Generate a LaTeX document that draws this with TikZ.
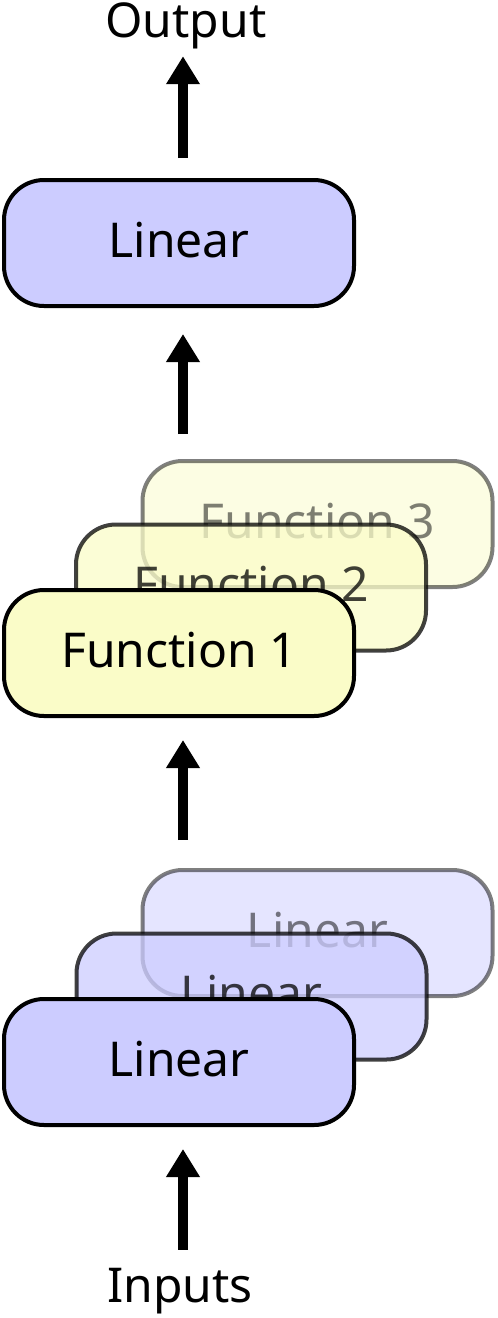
\documentclass[tikz,border=0pt]{standalone}
\usepackage{fontspec}
\setmainfont{Noto Sans}
\usetikzlibrary{arrows.meta}
\definecolor{linfill}{RGB}{204,204,255}
\definecolor{funfill}{RGB}{250,252,200}
\begin{document}
\begin{tikzpicture}[x=1pt,y=-1pt,
  box/.style={rectangle, rounded corners=40pt, minimum width=350pt, minimum height=126pt,
    line width=4pt, draw=black, font=\fontsize{48}{58}\selectfont,
    text height=28pt, text depth=0pt, inner sep=0pt},
  lin/.style={box, fill=linfill},
  fun/.style={box, fill=funfill},
  lbl/.style={font=\fontsize{48}{58}\selectfont, inner sep=0pt, anchor=base},
  arr/.style={line width=10pt, -{Triangle[width=32pt,length=28pt]}}]
\useasboundingbox (0,0) rectangle (498,1318);
\coordinate (ax) at (183,0);
% labels
\node[lbl] (out) at (186,37) {Output};
\node[lbl] (in) at (180,1302) {Inputs};
% top linear
\node[lin] (top) at (179,243) {Linear};
% function stack
\node[fun, opacity=0.5] (f3) at (317.5,524) {Function 3};
\node[fun, opacity=0.75] (f2) at (251,587.5) {Function 2};
\node[fun] (f1) at (179,653) {Function 1};
% linear stack
\node[lin, opacity=0.5] (l3) at (317.5,933) {Linear};
\node[lin, opacity=0.75] (l2) at (251.5,996.5) {Linear};
\node[lin] (l1) at (179,1062) {Linear};
% arrows
\draw[arr, shorten <=20pt, shorten >=7.5pt] (top.north -| ax) -- (out.south -| ax);
\draw[arr, shorten <=25pt, shorten >=26pt] (f3.north -| ax) -- (top.south -| ax);
\draw[arr, shorten <=28pt, shorten >=22pt] (l3.north -| ax) -- (f1.south -| ax);
\draw[arr, shorten <=18pt, shorten >=22pt] (in.north -| ax) -- (l1.south -| ax);
\end{tikzpicture}
\end{document}
